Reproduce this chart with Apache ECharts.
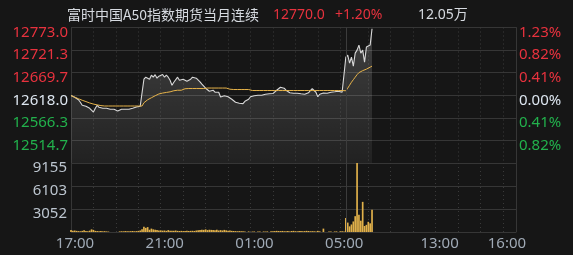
<!DOCTYPE html>
<html>
<head>
<meta charset="utf-8">
<script src="https://cdn.jsdelivr.net/npm/echarts@6/dist/echarts.min.js"></script>
<style>
html,body{margin:0;padding:0;background:#161616;}
#chart{width:573px;height:255px;}
</style>
</head>
<body>
<div id="chart"></div>
<script>
// ---------- data ----------
const titleText = '富时中国A50指数期货当月连续';
const totalVolumeText = '12.05万';
const basePrice = 12618.0;
const priceRange = [12463, 12773];
const volumeMax = 9155;
const xLabelTimes = ['17:00', '21:00', '01:00', '05:00', '13:00', '16:00'];
const sessionBreak = '09:00';

// time categories (5-minute slots): night session 17:00-05:15, day session 09:00-16:35
const times = [];
function pushRange(startMin, endMin) {
  for (let m = startMin; m <= endMin; m += 5) {
    const h = Math.floor(m / 60) % 24, mm = m % 60;
    times.push(String(h).padStart(2, '0') + ':' + String(mm).padStart(2, '0'));
  }
}
pushRange(17 * 60, 29 * 60 + 10);
pushRange(9 * 60, 16 * 60 + 35);

const priceData = [
  12617.3,12615.7,12613.4,12611.1,12607.7,12601.9,12595.0,12597.3,12592.7,12590.4,
  12588.1,12583.6,12579.6,12588.1,12595.0,12590.4,12592.7,12588.1,12590.4,12588.1,
  12587.0,12585.8,12588.1,12585.8,12583.6,12581.9,12583.6,12585.8,12583.6,12585.8,
  12588.1,12585.8,12587.0,12588.1,12590.4,12591.1,12592.7,12592.7,12592.7,12654.7,
  12659.3,12661.6,12654.7,12663.9,12659.3,12665.1,12657.0,12661.6,12663.9,12665.5,
  12659.3,12663.9,12659.3,12652.4,12641.0,12647.8,12650.1,12659.3,12652.4,12648.5,
  12654.7,12657.0,12650.1,12647.8,12654.7,12659.3,12660.0,12657.0,12654.7,12648.5,
  12643.3,12639.8,12634.1,12630.6,12627.2,12625.6,12629.5,12624.9,12626.0,12624.9,
  12614.1,12618.0,12616.8,12618.0,12614.6,12611.1,12608.8,12606.5,12601.9,12598.9,
  12599.6,12600.3,12598.9,12604.2,12606.5,12608.8,12614.6,12615.7,12616.8,12616.8,
  12618.0,12618.0,12618.0,12619.1,12620.3,12620.3,12621.4,12621.4,12621.9,12624.9,
  12629.5,12632.9,12636.4,12637.1,12634.1,12629.5,12626.0,12623.7,12623.3,12622.6,
  12622.6,12622.6,12621.9,12621.4,12621.4,12620.3,12620.3,12623.7,12628.3,12632.9,
  12629.5,12624.9,12614.6,12620.3,12622.6,12623.3,12623.7,12622.6,12623.7,12624.9,
  12624.9,12626.0,12626.0,12627.2,12627.9,12624.9,12621.9,
  12705.3,12709.9,12691.5,12705.3,12684.6,12714.4,12721.3,12732.8,12714.4,12721.3,
  12693.8,12728.2,12725.9,12732.8,12770.0
];

const avgData = [
  12617.3,12615.7,12613.4,12611.6,12610.0,12608.1,12606.5,12604.9,12603.5,12601.9,
  12600.3,12598.9,12597.8,12596.6,12596.0,12595.0,12594.3,12593.9,12593.4,12593.4,
  12593.4,12593.4,12593.4,12593.4,12593.4,12593.4,12593.4,12593.4,12593.4,12593.4,
  12593.4,12593.4,12593.4,12593.4,12593.4,12593.4,12593.4,12593.4,12593.4,12600.8,
  12604.2,12607.7,12610.0,12612.3,12614.6,12616.8,12618.7,12621.0,12622.1,12623.0,
  12623.7,12624.4,12625.1,12625.8,12627.2,12628.3,12629.5,12629.5,12629.5,12629.5,
  12629.5,12632.9,12633.4,12633.4,12633.4,12633.4,12633.4,12633.4,12633.4,12633.4,
  12633.4,12633.4,12634.5,12634.5,12634.5,12634.5,12634.5,12634.5,12634.5,12634.5,
  12634.5,12634.5,12634.5,12634.5,12634.5,12631.8,12631.1,12631.1,12631.1,12631.1,
  12631.1,12631.1,12631.1,12631.1,12631.1,12631.1,12628.8,12628.8,12628.8,12628.8,
  12628.8,12628.8,12628.8,12628.8,12628.8,12628.8,12628.8,12628.8,12628.8,12628.8,
  12628.8,12628.8,12628.8,12628.8,12628.8,12628.8,12628.8,12628.8,12628.8,12628.8,
  12628.8,12628.8,12628.8,12628.8,12628.8,12628.8,12628.8,12628.8,12628.8,12628.8,
  12628.8,12628.8,12628.8,12628.8,12628.8,12628.8,12628.8,12628.8,12628.8,12628.8,
  12628.8,12628.8,12628.8,12628.8,12628.8,12628.8,12628.8,
  12628.3,12634.1,12641.0,12647.8,12653.6,12659.3,12665.1,12669.7,12672.0,12674.3,
  12675.4,12677.7,12680.0,12682.3,12684.6
];

const volumeData = [
  250,180,200,150,120,100,150,220,130,100,
  180,350,280,150,120,100,130,90,110,80,
  60,0,0,0,0,0,80,100,90,120,
  100,90,110,130,100,120,150,200,350,700,
  550,650,300,450,350,300,250,200,220,180,
  200,150,250,180,150,160,200,150,130,150,
  120,140,180,130,150,160,140,200,220,260,
  300,280,350,250,300,280,250,220,300,200,
  250,200,280,220,180,200,150,130,120,100,
  120,100,90,80,0,80,0,60,70,0,
  60,80,0,70,60,80,0,90,100,120,
  150,130,120,140,100,110,120,80,130,150,
  100,90,120,140,110,120,150,130,100,110,
  100,80,150,90,0,450,0,0,80,60,
  0,70,80,0,90,100,80,
  1850,1250,750,1000,1400,2100,9155,2300,1500,4000,
  800,950,1350,1150,2950
];

// ---------- styles ----------
const FONT = '"Noto Sans","Noto Sans CJK SC",sans-serif';
const RED = '#e8323e', GREEN = '#22b14c', NEUTRAL = '#dde6f0';
const GRID_LINE = '#363636';
const lastPrice = priceData[priceData.length - 1];
const pct = (lastPrice - basePrice) / basePrice * 100;

function priceColor(v) {
  if (v > basePrice + 0.01) return RED;
  if (v < basePrice - 0.01) return GREEN;
  return NEUTRAL;
}
const hourly = (idx, val) => val.endsWith(':00') && idx !== 0 && val !== sessionBreak;

const chart = echarts.init(document.getElementById('chart'), null, {renderer: 'canvas'});
const priceStep = (priceRange[1] - priceRange[0]) / 6;
const yLabelBase = {show: true, showMinLabel: false, fontSize: 15, fontFamily: FONT, verticalAlign: 'top', lineHeight: 10};

const option = {
  animation: false,
  backgroundColor: '#161616',
  textStyle: {fontFamily: FONT},
  graphic: [
    {type: 'text', x: 67, y: 15, style: {text: titleText, fill: '#d6dae0', font: '14px "Noto Sans CJK SC"', verticalAlign: 'middle', align: 'left'}},
    {type: 'text', x: 273, y: 15, style: {text: lastPrice.toFixed(1), fill: RED, font: '14px ' + FONT, verticalAlign: 'middle', align: 'left'}},
    {type: 'text', x: 335, y: 15, style: {text: (pct >= 0 ? '+' : '') + pct.toFixed(2) + '%', fill: RED, font: '14px ' + FONT, verticalAlign: 'middle', align: 'left'}},
    {type: 'text', x: 418, y: 15, style: {text: totalVolumeText, fill: '#d6dae0', font: '14px ' + FONT, verticalAlign: 'middle', align: 'left'}}
  ],
  grid: [
    {left: 71, right: 57, top: 27.5, height: 135.5},
    {left: 71, right: 57, top: 163, height: 69}
  ],
  xAxis: [
    {
      type: 'category', gridIndex: 0, data: times, boundaryGap: false,
      axisLine: {show: false}, axisTick: {show: false}, axisLabel: {show: false},
      splitLine: {show: true, interval: hourly, lineStyle: {color: '#3a3a3a', type: [1, 3], width: 1}}
    },
    {
      type: 'category', gridIndex: 1, data: times, boundaryGap: false,
      axisLine: {show: false}, axisTick: {show: false},
      axisLabel: {
        show: true, interval: (idx, val) => xLabelTimes.includes(val),
        color: '#a0aab6', fontSize: 15, fontFamily: FONT, margin: 4, padding: [0, 0, 0, 8]
      },
      splitLine: {show: true, interval: hourly, lineStyle: {color: '#3a3a3a', type: [1, 3], width: 1}}
    }
  ],
  yAxis: [
    {
      type: 'value', gridIndex: 0, position: 'left',
      min: priceRange[0], max: priceRange[1], interval: priceStep,
      axisLine: {show: true, lineStyle: {color: GRID_LINE}}, axisTick: {show: false},
      splitLine: {show: true, lineStyle: {color: GRID_LINE, width: 1}},
      axisLabel: Object.assign({}, yLabelBase, {
        margin: 3,
        formatter: v => v.toFixed(1),
        color: v => priceColor(v)
      })
    },
    {
      type: 'value', gridIndex: 0, position: 'right',
      min: priceRange[0], max: priceRange[1], interval: priceStep,
      axisLine: {show: true, lineStyle: {color: GRID_LINE}}, axisTick: {show: false},
      splitLine: {show: false},
      axisLabel: Object.assign({}, yLabelBase, {
        margin: 3,
        formatter: v => Math.abs((v - basePrice) / basePrice * 100).toFixed(2) + '%',
        color: v => priceColor(v)
      })
    },
    {
      type: 'value', gridIndex: 1, position: 'left',
      min: 0, max: volumeMax, interval: volumeMax / 3,
      axisLine: {show: true, lineStyle: {color: GRID_LINE}}, axisTick: {show: false},
      splitLine: {show: true, lineStyle: {color: GRID_LINE, width: 1}},
      axisLabel: Object.assign({}, yLabelBase, {
        margin: 4, color: '#bcc5cf',
        formatter: v => String(Math.round(v))
      })
    },
    {
      type: 'value', gridIndex: 1, position: 'right',
      min: 0, max: volumeMax, interval: volumeMax / 3,
      axisLine: {show: true, lineStyle: {color: GRID_LINE}}, axisTick: {show: false},
      splitLine: {show: false}, axisLabel: {show: false}
    }
  ],
  series: [
    {
      name: 'price', type: 'line', xAxisIndex: 0, yAxisIndex: 0,
      data: priceData, showSymbol: false, symbol: 'none',
      lineStyle: {color: '#d8d8d8', width: 1.1},
      areaStyle: {
        color: new echarts.graphic.LinearGradient(0, 0, 0, 1, [
          {offset: 0, color: 'rgba(255,255,255,0.26)'},
          {offset: 1, color: 'rgba(255,255,255,0.07)'}
        ])
      },
      markLine: {
        symbol: 'none', silent: true, label: {show: false},
        lineStyle: {color: '#3c3c3c', type: 'solid', width: 1},
        data: [{xAxis: sessionBreak}]
      },
      z: 3
    },
    {
      name: 'avg', type: 'line', xAxisIndex: 0, yAxisIndex: 0,
      data: avgData, showSymbol: false, symbol: 'none',
      lineStyle: {color: '#e6b34a', width: 1}, z: 4
    },
    {
      name: 'volume', type: 'bar', xAxisIndex: 1, yAxisIndex: 2,
      data: volumeData, barCategoryGap: '10%',
      itemStyle: {color: '#e0b04a'},
      markLine: {
        symbol: 'none', silent: true, label: {show: false},
        lineStyle: {color: '#3c3c3c', type: 'solid', width: 1},
        data: [{xAxis: sessionBreak}]
      }
    }
  ]
};
chart.setOption(option);
</script>
</body>
</html>
